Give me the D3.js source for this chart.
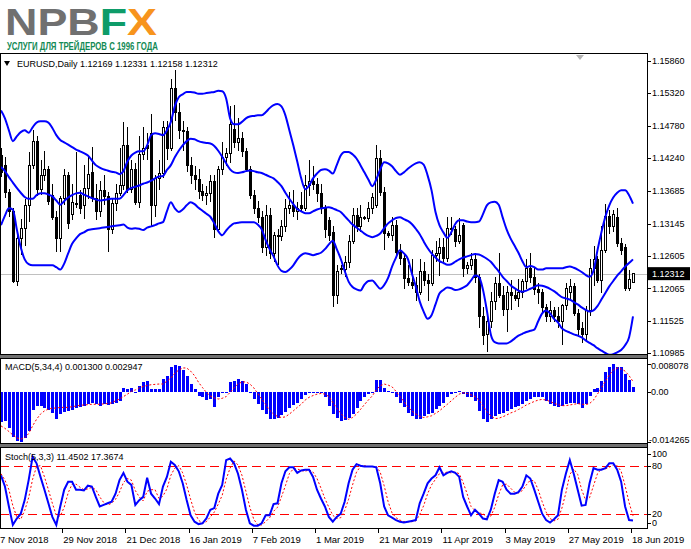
<!DOCTYPE html>
<html>
<head>
<meta charset="utf-8">
<script src="https://cdn.jsdelivr.net/npm/d3@7"></script>
<style>
  body { margin: 0; background: #fff; }
  svg { display: block; }
  text { font-family: "Liberation Sans", Arial, sans-serif; }
</style>
</head>
<body>
<svg id="chart" width="691" height="549"></svg>
<script>
// EURUSD daily, 7 Nov 2018 .. 18 Jun 2019
const dateLabels = ['7 Nov 2018', '29 Nov 2018', '21 Dec 2018', '16 Jan 2019', '7 Feb 2019', '1 Mar 2019',
  '21 Mar 2019', '11 Apr 2019', '3 May 2019', '27 May 2019', '18 Jun 2019']
const dateBars = [0, 16, 32, 48, 64, 80, 96, 112, 128, 144, 160]
const priceTicks = [1.15860, 1.15320, 1.14780, 1.14240, 1.13685, 1.13145, 1.12605, 1.12065, 1.11525, 1.10985]
const macdTicks = [0.008078, 0, -0.014265]
const stochTicks = [100, 80, 20, 0]
const stochLevels = [80, 20]

const opens = [1.1428, 1.1412, 1.1366, 1.1335, 1.1218, 1.1290, 1.1306, 1.1345, 1.1412, 1.1452,
  1.1372, 1.1395, 1.1405, 1.1362, 1.1325, 1.1290, 1.1356, 1.1395, 1.1330, 1.1348,
  1.1362, 1.1345, 1.1373, 1.1400, 1.1356, 1.1335, 1.1370, 1.1360, 1.1305, 1.1348,
  1.1365, 1.1378, 1.1445, 1.1372, 1.1405, 1.1350, 1.1430, 1.1445, 1.1465, 1.1345,
  1.1390, 1.1398, 1.1475, 1.1440, 1.1540, 1.1500, 1.1470, 1.1468, 1.1412, 1.1395,
  1.1388, 1.1368, 1.1362, 1.1365, 1.1385, 1.1305, 1.1405, 1.1425, 1.1432, 1.1472,
  1.1450, 1.1457, 1.1435, 1.1405, 1.1362, 1.1340, 1.1325, 1.1275, 1.1328, 1.1265,
  1.1295, 1.1293, 1.1310, 1.1340, 1.1345, 1.1335, 1.1345, 1.1340, 1.1378, 1.1385,
  1.1380, 1.1365, 1.1340, 1.1320, 1.1300, 1.1195, 1.1240, 1.1238, 1.1250, 1.1285,
  1.1328, 1.1310, 1.1325, 1.1323, 1.1340, 1.1345, 1.1423, 1.1367, 1.1298, 1.1295,
  1.1312, 1.1267, 1.1256, 1.1223, 1.1216, 1.1212, 1.1200, 1.1235, 1.1220, 1.1215,
  1.1262, 1.1265, 1.1275, 1.1256, 1.1306, 1.1305, 1.1285, 1.1312, 1.1240, 1.1245,
  1.1255, 1.1225, 1.1160, 1.1130, 1.1152, 1.1185, 1.1215, 1.1195, 1.1172, 1.1200,
  1.1195, 1.1190, 1.1200, 1.1218, 1.1240, 1.1225, 1.1205, 1.1200, 1.1175, 1.1160,
  1.1170, 1.1160, 1.1152, 1.1178, 1.1200, 1.1210, 1.1165, 1.1140, 1.1130, 1.1170,
  1.1240, 1.1255, 1.1220, 1.1270, 1.1326, 1.1310, 1.1325, 1.1282, 1.1275, 1.1207,
  1.12169]
const highs = [1.1440, 1.1426, 1.1372, 1.1340, 1.1300, 1.1323, 1.1356, 1.1434, 1.1470, 1.1460,
  1.1420, 1.1435, 1.1410, 1.1380, 1.1335, 1.1360, 1.1406, 1.1400, 1.1380, 1.1434,
  1.1370, 1.1412, 1.1425, 1.1442, 1.1380, 1.1385, 1.1395, 1.1368, 1.1355, 1.1380,
  1.1440, 1.1484, 1.1475, 1.1420, 1.1415, 1.1460, 1.1475, 1.1465, 1.1498, 1.1395,
  1.1420, 1.1485, 1.1485, 1.1556, 1.1570, 1.1515, 1.1485, 1.1475, 1.1425, 1.1410,
  1.1405, 1.1380, 1.1378, 1.1395, 1.1395, 1.1410, 1.1450, 1.1440, 1.1510, 1.1512,
  1.1490, 1.1468, 1.1440, 1.1410, 1.1370, 1.1352, 1.1335, 1.1345, 1.1340, 1.1300,
  1.1305, 1.1320, 1.1356, 1.1368, 1.1370, 1.1350, 1.1368, 1.1395, 1.1420, 1.1410,
  1.1390, 1.1380, 1.1345, 1.1325, 1.1310, 1.1245, 1.1245, 1.1260, 1.1295, 1.1340,
  1.1340, 1.1345, 1.1328, 1.1350, 1.1365, 1.1445, 1.1437, 1.1375, 1.1302, 1.1325,
  1.1320, 1.1280, 1.1262, 1.1245, 1.1255, 1.1225, 1.1255, 1.1250, 1.1230, 1.1270,
  1.1285, 1.1290, 1.1290, 1.1326, 1.1325, 1.1310, 1.1324, 1.1315, 1.1250, 1.1265,
  1.1265, 1.1230, 1.1175, 1.1160, 1.1200, 1.1225, 1.1265, 1.1210, 1.1210, 1.1220,
  1.1205, 1.1222, 1.1222, 1.1255, 1.1265, 1.1240, 1.1215, 1.1205, 1.1180, 1.1185,
  1.1175, 1.1175, 1.1180, 1.1215, 1.1222, 1.1215, 1.1172, 1.1150, 1.1178, 1.1255,
  1.1277, 1.1260, 1.1310, 1.1348, 1.1337, 1.1337, 1.1340, 1.1290, 1.1280, 1.1238,
  1.12331]
const lows = [1.1392, 1.1358, 1.1325, 1.1215, 1.1210, 1.1262, 1.1277, 1.1318, 1.1405, 1.1360,
  1.1362, 1.1385, 1.1345, 1.1320, 1.1267, 1.1267, 1.1345, 1.1306, 1.1320, 1.1340,
  1.1330, 1.1323, 1.1356, 1.1350, 1.1320, 1.1325, 1.1345, 1.1267, 1.1298, 1.1335,
  1.1360, 1.1370, 1.1365, 1.1365, 1.1345, 1.1340, 1.1420, 1.1420, 1.1310, 1.1325,
  1.1370, 1.1390, 1.1420, 1.1435, 1.1485, 1.1455, 1.1435, 1.1400, 1.1380, 1.1370,
  1.1355, 1.1352, 1.1345, 1.1350, 1.1290, 1.1300, 1.1395, 1.1410, 1.1415, 1.1440,
  1.1435, 1.1425, 1.1400, 1.1355, 1.1330, 1.1315, 1.1265, 1.1260, 1.1255, 1.1250,
  1.1245, 1.1285, 1.1300, 1.1330, 1.1325, 1.1320, 1.1335, 1.1335, 1.1360, 1.1370,
  1.1350, 1.1330, 1.1290, 1.1285, 1.1176, 1.1180, 1.1230, 1.1225, 1.1240, 1.1280,
  1.1300, 1.1300, 1.1320, 1.1318, 1.1330, 1.1340, 1.1360, 1.1270, 1.1290, 1.1285,
  1.1260, 1.1245, 1.1206, 1.1210, 1.1205, 1.1185, 1.1195, 1.1210, 1.1185, 1.1210,
  1.1250, 1.1228, 1.1250, 1.1250, 1.1295, 1.1275, 1.1280, 1.1225, 1.1230, 1.1238,
  1.1215, 1.1140, 1.1112, 1.1100, 1.1140, 1.1170, 1.1190, 1.1160, 1.1134, 1.1170,
  1.1185, 1.1175, 1.1190, 1.1205, 1.1215, 1.1195, 1.1180, 1.1165, 1.1150, 1.1150,
  1.1150, 1.1140, 1.1112, 1.1170, 1.1185, 1.1160, 1.1126, 1.1116, 1.1118, 1.1160,
  1.1210, 1.1215, 1.1199, 1.1265, 1.1298, 1.1300, 1.1275, 1.1262, 1.1202, 1.1202,
  1.12158]
const closes = [1.1400, 1.1366, 1.1335, 1.1218, 1.1290, 1.1306, 1.1345, 1.1412, 1.1452, 1.1372,
  1.1395, 1.1405, 1.1352, 1.1325, 1.1290, 1.1356, 1.1395, 1.1314, 1.1350, 1.1346,
  1.1340, 1.1373, 1.1396, 1.1356, 1.1335, 1.1370, 1.1360, 1.1305, 1.1348, 1.1365,
  1.1378, 1.1445, 1.1372, 1.1405, 1.1350, 1.1430, 1.1440, 1.1440, 1.1345, 1.1390,
  1.1398, 1.1475, 1.1440, 1.1540, 1.1500, 1.1470, 1.1468, 1.1412, 1.1395, 1.1388,
  1.1368, 1.1362, 1.1365, 1.1385, 1.1305, 1.1405, 1.1425, 1.1432, 1.1480, 1.1450,
  1.1457, 1.1435, 1.1405, 1.1362, 1.1340, 1.1325, 1.1275, 1.1328, 1.1265, 1.1295,
  1.1293, 1.1310, 1.1340, 1.1345, 1.1335, 1.1340, 1.1340, 1.1378, 1.1385, 1.1380,
  1.1365, 1.1340, 1.1305, 1.1295, 1.1195, 1.1235, 1.1238, 1.1250, 1.1285, 1.1328,
  1.1310, 1.1325, 1.1323, 1.1340, 1.1358, 1.1423, 1.1367, 1.1298, 1.1295, 1.1312,
  1.1267, 1.1256, 1.1223, 1.1216, 1.1212, 1.1200, 1.1235, 1.1220, 1.1215, 1.1262,
  1.1265, 1.1275, 1.1256, 1.1306, 1.1305, 1.1285, 1.1295, 1.1240, 1.1245, 1.1255,
  1.1225, 1.1160, 1.1128, 1.1152, 1.1185, 1.1215, 1.1195, 1.1172, 1.1200, 1.1195,
  1.1190, 1.1200, 1.1218, 1.1240, 1.1225, 1.1205, 1.1200, 1.1175, 1.1160, 1.1170,
  1.1160, 1.1152, 1.1178, 1.1206, 1.1210, 1.1165, 1.1138, 1.1130, 1.1170, 1.1240,
  1.1255, 1.1220, 1.1270, 1.1326, 1.1310, 1.1330, 1.1282, 1.1270, 1.1207, 1.1222,
  1.12312]

// Bollinger bands (20, 2) as drawn
const bbUpper = [1.1503, 1.1490, 1.1470, 1.1452, 1.1460, 1.1467, 1.1470, 1.1466, 1.1475, 1.1483,
  1.1485, 1.1485, 1.1483, 1.1474, 1.1462, 1.1454, 1.1450, 1.1446, 1.1442, 1.1438,
  1.1435, 1.1432, 1.1428, 1.1420, 1.1412, 1.1408, 1.1405, 1.1403, 1.1401, 1.1400,
  1.1397, 1.1402, 1.1418, 1.1428, 1.1433, 1.1435, 1.1435, 1.1445, 1.1462, 1.1465,
  1.1464, 1.1462, 1.1470, 1.1484, 1.1510, 1.1525, 1.1530, 1.1534, 1.1534, 1.1533,
  1.1531, 1.1531, 1.1532, 1.1533, 1.1534, 1.1536, 1.1535, 1.1523, 1.1490, 1.1480,
  1.1480, 1.1484, 1.1490, 1.1493, 1.1494, 1.1495, 1.1495, 1.1500, 1.1507, 1.1512,
  1.1514, 1.1510, 1.1495, 1.1470, 1.1445, 1.1418, 1.1390, 1.1372, 1.1378, 1.1390,
  1.1398, 1.1404, 1.1405, 1.1403, 1.1398, 1.1412, 1.1428, 1.1434, 1.1434, 1.1430,
  1.1423, 1.1412, 1.1400, 1.1388, 1.1377, 1.1388, 1.1405, 1.1417, 1.1415, 1.1410,
  1.1402, 1.1396, 1.1400, 1.1406, 1.1411, 1.1415, 1.1417, 1.1413, 1.1395, 1.1370,
  1.1334, 1.1312, 1.1300, 1.1291, 1.1300, 1.1314, 1.1320, 1.1320, 1.1318, 1.1317,
  1.1317, 1.1318, 1.1330, 1.1345, 1.1350, 1.1351, 1.1346, 1.1325, 1.1305, 1.1290,
  1.1278, 1.1266, 1.1252, 1.1242, 1.1244, 1.1242, 1.1238, 1.1238, 1.1240, 1.1240,
  1.1240, 1.1240, 1.1240, 1.1242, 1.1243, 1.1241, 1.1238, 1.1234, 1.1229, 1.1226,
  1.1236, 1.1270, 1.1300, 1.1326, 1.1345, 1.1358, 1.1366, 1.1370, 1.1370, 1.1362,
  1.1348]
const bbMiddle = [1.1409, 1.1402, 1.1392, 1.1383, 1.1374, 1.1366, 1.1359, 1.1356, 1.1356, 1.1362,
  1.1365, 1.1365, 1.1363, 1.1360, 1.1353, 1.1346, 1.1352, 1.1358, 1.1362, 1.1365,
  1.1366, 1.1363, 1.1360, 1.1357, 1.1355, 1.1353, 1.1354, 1.1355, 1.1356, 1.1356,
  1.1356, 1.1362, 1.1370, 1.1374, 1.1376, 1.1378, 1.1381, 1.1383, 1.1386, 1.1390,
  1.1393, 1.1394, 1.1404, 1.1412, 1.1425, 1.1436, 1.1445, 1.1452, 1.1456, 1.1455,
  1.1452, 1.1450, 1.1449, 1.1448, 1.1444, 1.1436, 1.1426, 1.1415, 1.1405, 1.1400,
  1.1399, 1.1400, 1.1402, 1.1403, 1.1402, 1.1400, 1.1399, 1.1396, 1.1393, 1.1390,
  1.1384, 1.1377, 1.1366, 1.1356, 1.1347, 1.1339, 1.1335, 1.1332, 1.1332, 1.1335,
  1.1338, 1.1340, 1.1341, 1.1342, 1.1340, 1.1337, 1.1334, 1.1327, 1.1320, 1.1313,
  1.1308, 1.1303, 1.1298, 1.1294, 1.1292, 1.1294, 1.1298, 1.1307, 1.1315, 1.1320,
  1.1324, 1.1325, 1.1322, 1.1319, 1.1314, 1.1306, 1.1297, 1.1285, 1.1274, 1.1265,
  1.1258, 1.1252, 1.1249, 1.1246, 1.1247, 1.1251, 1.1255, 1.1258, 1.1260, 1.1262,
  1.1264, 1.1263, 1.1260, 1.1256, 1.1251, 1.1243, 1.1235, 1.1226, 1.1219, 1.1212,
  1.1207, 1.1203, 1.1201, 1.1203, 1.1206, 1.1209, 1.1212, 1.1211, 1.1209, 1.1206,
  1.1202, 1.1197, 1.1192, 1.1190, 1.1188, 1.1184, 1.1180, 1.1175, 1.1171, 1.1168,
  1.1170, 1.1177, 1.1188, 1.1199, 1.1210, 1.1219, 1.1228, 1.1235, 1.1243, 1.1249,
  1.1255]
const bbLower = [1.1312, 1.1328, 1.1340, 1.1338, 1.1305, 1.1275, 1.1255, 1.1247, 1.1245, 1.1245,
  1.1245, 1.1245, 1.1245, 1.1245, 1.1242, 1.1238, 1.1248, 1.1265, 1.1281, 1.1290,
  1.1297, 1.1300, 1.1304, 1.1305, 1.1306, 1.1307, 1.1308, 1.1309, 1.1310, 1.1311,
  1.1312, 1.1313, 1.1308, 1.1306, 1.1307, 1.1306, 1.1304, 1.1308, 1.1310, 1.1312,
  1.1315, 1.1317, 1.1335, 1.1350, 1.1340, 1.1334, 1.1338, 1.1345, 1.1350, 1.1347,
  1.1341, 1.1336, 1.1331, 1.1326, 1.1315, 1.1302, 1.1295, 1.1303, 1.1310, 1.1315,
  1.1316, 1.1317, 1.1317, 1.1317, 1.1317, 1.1313, 1.1305, 1.1287, 1.1272, 1.1260,
  1.1245, 1.1236, 1.1234, 1.1238, 1.1245, 1.1255, 1.1262, 1.1265, 1.1264, 1.1262,
  1.1264, 1.1266, 1.1272, 1.1280, 1.1286, 1.1272, 1.1256, 1.1236, 1.1218, 1.1209,
  1.1205, 1.1203, 1.1213, 1.1219, 1.1220, 1.1213, 1.1206, 1.1212, 1.1224, 1.1243,
  1.1258, 1.1270, 1.1265, 1.1256, 1.1232, 1.1210, 1.1185, 1.1168, 1.1156, 1.1162,
  1.1180, 1.1198, 1.1204, 1.1208, 1.1207, 1.1204, 1.1205, 1.1208, 1.1212, 1.1220,
  1.1228, 1.1226, 1.1205, 1.1170, 1.1130, 1.1117, 1.1115, 1.1115, 1.1115, 1.1118,
  1.1123, 1.1128, 1.1131, 1.1134, 1.1136, 1.1138, 1.1152, 1.1165, 1.1170, 1.1165,
  1.1156, 1.1150, 1.1140, 1.1136, 1.1133, 1.1130, 1.1128, 1.1125, 1.1120, 1.1116,
  1.1112, 1.1107, 1.1103, 1.1099, 1.1096, 1.1097, 1.1100, 1.1104, 1.1112, 1.1125,
  1.1160]

// MACD(5,34,4)
const macdHist = [-0.0088, -0.0084, -0.0103, -0.0130, -0.0140, -0.014265, -0.0133, -0.0112, -0.0053, -0.0040,
  -0.0040, -0.0047, -0.0053, -0.0060, -0.0079, -0.0064, -0.0057, -0.0055, -0.0051, -0.0047,
  -0.0043, -0.0040, -0.0036, -0.0032, -0.0036, -0.0040, -0.0036, -0.0037, -0.0036, -0.0031,
  -0.0026, 0.0012, 0.0008, 0.0011, -0.0002, 0.0017, 0.0027, 0.0032, 0.0008, 0.0008,
  0.0008, 0.0037, 0.0046, 0.0072, 0.0077, 0.0073, 0.0063, 0.0046, 0.0022, 0.0008,
  -0.0012, -0.0016, -0.0024, -0.0021, -0.0045, -0.0016, -0.0002, -0.0002, 0.0027, 0.0032,
  0.0037, 0.0032, 0.0022, -0.0002, -0.0021, -0.0036, -0.0053, -0.0064, -0.0079, -0.0079,
  -0.0074, -0.0066, -0.0057, -0.0047, -0.0037, -0.0031, -0.0021, -0.0009, -0.0005, -0.0005,
  -0.0004, -0.0005, -0.0016, -0.0040, -0.0064, -0.0074, -0.0084, -0.0082, -0.0074, -0.0064,
  -0.0047, -0.0028, -0.0016, -0.0007, -0.0002, 0.0034, 0.0034, 0.0012, 0.0003, -0.0002,
  -0.0016, -0.0031, -0.0045, -0.0060, -0.0069, -0.0079, -0.0079, -0.0069, -0.0064, -0.0060,
  -0.0050, -0.0040, -0.0031, -0.0016, -0.0007, -0.0004, 0.0001, -0.0007, -0.0016, -0.0016,
  -0.0026, -0.0055, -0.0079, -0.0088, -0.0079, -0.0069, -0.0064, -0.0060, -0.0055, -0.0050,
  -0.0045, -0.0040, -0.0036, -0.0026, -0.0021, -0.0016, -0.0016, -0.0016, -0.0026, -0.0036,
  -0.0040, -0.0045, -0.0040, -0.0036, -0.0031, -0.0031, -0.0036, -0.0047, -0.0036, -0.0012,
  0.0008, 0.0012, 0.0032, 0.0056, 0.0070, 0.008078, 0.0070, 0.0070, 0.0051, 0.0034,
  0.0013]
const macdSignal = [-0.0098, -0.0105, -0.0114, -0.0124, -0.0132, -0.0136, -0.0132, -0.0120, -0.0098, -0.0079,
  -0.0064, -0.0055, -0.0050, -0.0047, -0.0047, -0.0045, -0.0045, -0.0045, -0.0043, -0.0041,
  -0.0039, -0.0038, -0.0037, -0.0036, -0.0036, -0.0036, -0.0035, -0.0034, -0.0032, -0.0026,
  -0.0021, -0.0014, -0.0007, 0.0001, 0.0005, 0.0011, 0.0015, 0.0018, 0.0020, 0.0021,
  0.0022, 0.0022, 0.0030, 0.0039, 0.0053, 0.0062, 0.0068, 0.0068, 0.0059, 0.0046,
  0.0027, 0.0012, -0.0002, -0.0012, -0.0018, -0.0021, -0.0019, -0.0014, -0.0002, 0.0011,
  0.0022, 0.0028, 0.0028, 0.0022, 0.0011, -0.0005, -0.0021, -0.0037, -0.0053, -0.0064,
  -0.0071, -0.0074, -0.0072, -0.0064, -0.0055, -0.0045, -0.0036, -0.0024, -0.0016, -0.0011,
  -0.0007, -0.0005, -0.0007, -0.0014, -0.0031, -0.0047, -0.0062, -0.0074, -0.0079, -0.0074,
  -0.0064, -0.0051, -0.0037, -0.0024, -0.0012, 0.0005, 0.0017, 0.0022, 0.0019, 0.0014,
  0.0001, -0.0014, -0.0028, -0.0043, -0.0055, -0.0064, -0.0071, -0.0074, -0.0072, -0.0069,
  -0.0062, -0.0055, -0.0045, -0.0036, -0.0026, -0.0016, -0.0007, -0.0003, -0.0005, -0.0009,
  -0.0014, -0.0024, -0.0040, -0.0057, -0.0069, -0.0077, -0.0076, -0.0072, -0.0067, -0.0061,
  -0.0057, -0.0051, -0.0045, -0.0038, -0.0033, -0.0028, -0.0024, -0.0022, -0.0024, -0.0028,
  -0.0033, -0.0037, -0.0040, -0.0040, -0.0038, -0.0036, -0.0034, -0.0036, -0.0037, -0.0034,
  -0.0024, -0.0007, 0.0011, 0.0030, 0.0048, 0.0062, 0.0068, 0.0065, 0.0059, 0.0046,
  0.002947]

// Stochastic(5,3,3)
const stochMain = [68, 54, 29, 6, 14, 20, 37, 62, 91, 83,
  66, 50, 33, 16, 6, 29, 50, 60, 60, 50,
  50, 49, 55, 54, 41, 29, 31, 33, 35, 45,
  62, 71, 60, 56, 31, 37, 41, 65, 45, 39,
  32, 54, 66, 85, 81, 73, 58, 37, 18, 10,
  7, 8, 14, 25, 27, 45, 56, 87, 89, 83,
  70, 50, 25, 8, 5, 5, 8, 18, 18, 32,
  33, 58, 73, 78, 78, 71, 74, 75, 75, 66,
  50, 39, 29, 16, 10, 16, 20, 35, 58, 75,
  82, 80, 79, 79, 79, 78, 58, 29, 18, 15,
  12, 10, 9, 10, 11, 12, 33, 45, 58, 64,
  68, 78, 68, 71, 73, 71, 66, 41, 29, 18,
  25, 20, 14, 13, 25, 45, 62, 60, 50, 45,
  45, 47, 54, 68, 64, 50, 35, 20, 12, 9,
  13, 18, 50, 70, 87, 70, 50, 30, 31, 58,
  77, 75, 75, 77, 83, 83, 75, 60, 29, 12,
  11.4502]
const stochSignal = [70, 62, 50, 30, 16, 13, 24, 40, 63, 79,
  80, 66, 50, 33, 18, 17, 28, 46, 57, 57,
  53, 50, 51, 53, 50, 41, 34, 31, 33, 38,
  47, 59, 64, 62, 49, 41, 36, 48, 50, 50,
  39, 42, 51, 68, 77, 80, 71, 56, 38, 22,
  12, 8, 10, 16, 22, 32, 43, 63, 77, 86,
  81, 68, 48, 28, 13, 6, 6, 10, 15, 23,
  28, 41, 55, 70, 76, 76, 74, 73, 75, 72,
  64, 52, 39, 28, 18, 14, 15, 24, 38, 56,
  72, 79, 80, 79, 79, 79, 72, 55, 35, 21,
  15, 12, 10, 10, 10, 11, 19, 30, 45, 56,
  63, 70, 71, 72, 71, 72, 70, 59, 45, 29,
  24, 21, 20, 16, 17, 28, 44, 56, 57, 52,
  47, 46, 49, 56, 62, 61, 50, 35, 22, 14,
  11, 13, 27, 46, 69, 76, 69, 50, 37, 40,
  55, 70, 76, 76, 78, 81, 80, 73, 55, 34,
  17.3674]

const svg = d3.select('#chart')
const axisX = 647
const mainTop = 53, mainBottom = 355
const macdTop = 358, macdBottom = 444
const stochTop = 447, stochBottom = 529

const x = d3.scaleLinear().domain([0, 160]).range([1, 633])
const y = d3.scaleLinear().domain([1.10985, 1.15860]).range([353.3, 60.7])
const yMacd = d3.scaleLinear().domain([-0.014265, 0.008078]).range([441.5, 363.5])
const yStoch = d3.scaleLinear().domain([0, 100]).range([529.7, 449.7])
const px = v => Math.round(v) + 0.5

// logo
const logo = svg.append('text').attr('x', 5).attr('y', 35)
  .attr('font-family', '"DejaVu Sans", sans-serif')
  .attr('font-weight', 'bold').attr('font-size', 37)
  .attr('textLength', 152).attr('lengthAdjust', 'spacingAndGlyphs')
logo.append('tspan').attr('fill', '#707070').text('NPB')
logo.append('tspan').attr('fill', '#0e9c69').text('F')
logo.append('tspan').attr('fill', '#f7941d').text('X')
svg.append('text').attr('x', 7).attr('y', 50)
  .attr('font-weight', 'bold').attr('font-size', 10.5).attr('fill', '#138a55')
  .attr('textLength', 151).attr('lengthAdjust', 'spacingAndGlyphs')
  .text('УСЛУГИ ДЛЯ ТРЕЙДЕРОВ С 1996 ГОДА')

// panels
const panels = [[mainTop, mainBottom], [macdTop, macdBottom], [stochTop, stochBottom]]
svg.append('rect').attr('x', 0).attr('y', mainBottom).attr('width', axisX).attr('height', macdTop - mainBottom).attr('fill', '#707070')
svg.append('rect').attr('x', 0).attr('y', macdBottom).attr('width', axisX).attr('height', stochTop - macdBottom).attr('fill', '#707070')

const clip = svg.append('defs').selectAll('clipPath').data(panels).join('clipPath')
  .attr('id', (d, i) => 'clip' + i)
clip.append('rect').attr('x', 0).attr('y', d => d[0]).attr('width', axisX).attr('height', d => d[1] - d[0])

const gMain = svg.append('g').attr('clip-path', 'url(#clip0)')
const gMacd = svg.append('g').attr('clip-path', 'url(#clip1)')
const gStoch = svg.append('g').attr('clip-path', 'url(#clip2)')

// bid line
gMain.append('line').attr('x1', 0).attr('x2', axisX)
  .attr('y1', px(y(closes[160]))).attr('y2', px(y(closes[160])))
  .attr('stroke', '#c0c0c0').attr('stroke-width', 1)

// candles
const bars = d3.range(opens.length)
const candle = gMain.selectAll('g.candle').data(bars).join('g').attr('class', 'candle')
  .attr('shape-rendering', 'crispEdges')
candle.append('line')
  .attr('x1', i => px(x(i))).attr('x2', i => px(x(i)))
  .attr('y1', i => y(highs[i])).attr('y2', i => y(lows[i]))
  .attr('stroke', '#000')
candle.append('rect')
  .attr('x', i => Math.round(x(i)) - 0.5)
  .attr('width', 2)
  .attr('y', i => y(Math.max(opens[i], closes[i])))
  .attr('height', i => Math.max(1, Math.abs(y(opens[i]) - y(closes[i]))))
  .attr('fill', i => closes[i] >= opens[i] ? '#fff' : '#000')
  .attr('stroke', '#000')

// bollinger bands
const bandLine = d3.line().x((d, i) => x(i)).y(d => y(d)).curve(d3.curveMonotoneX)
;[bbUpper, bbMiddle, bbLower].forEach(band => {
  gMain.append('path').attr('d', bandLine(band))
    .attr('fill', 'none').attr('stroke', '#0000ff').attr('stroke-width', 2)
})

// shift marker
svg.append('path').attr('d', 'M576,55 L584,55 L580,60 Z').attr('fill', '#b4b4b4')

// MACD
gMacd.selectAll('rect.hist').data(bars).join('rect').attr('class', 'hist')
  .attr('shape-rendering', 'crispEdges')
  .attr('x', i => Math.round(x(i)) - 1)
  .attr('width', 3)
  .attr('y', i => Math.min(yMacd(0), yMacd(macdHist[i])))
  .attr('height', i => Math.max(1, Math.abs(yMacd(macdHist[i]) - yMacd(0))))
  .attr('fill', '#0000ff')
gMacd.append('path')
  .attr('d', d3.line().x((d, i) => x(i)).y(d => yMacd(d))(macdSignal))
  .attr('fill', 'none').attr('stroke', '#ff0000').attr('stroke-width', 1)
  .attr('stroke-dasharray', '2,2')

// Stochastic
stochLevels.forEach(v => {
  gStoch.append('line').attr('x1', 0).attr('x2', axisX)
    .attr('y1', px(yStoch(v))).attr('y2', px(yStoch(v)))
    .attr('stroke', '#ff0000').attr('stroke-width', 1).attr('stroke-dasharray', '9,5')
})
gStoch.append('path')
  .attr('d', d3.line().x((d, i) => x(i)).y(d => yStoch(d))(stochSignal))
  .attr('fill', 'none').attr('stroke', '#ff0000').attr('stroke-width', 1)
  .attr('stroke-dasharray', '2,2')
gStoch.append('path')
  .attr('d', d3.line().x((d, i) => x(i)).y(d => yStoch(d))(stochMain))
  .attr('fill', 'none').attr('stroke', '#0000ff').attr('stroke-width', 2)

// frames
panels.forEach(p => {
  svg.append('rect').attr('x', 0.5).attr('y', p[0] + 0.5)
    .attr('width', axisX - 0.5).attr('height', p[1] - p[0] - 1)
    .attr('fill', 'none').attr('stroke', '#000').attr('shape-rendering', 'crispEdges')
})

// panel captions
svg.append('path').attr('d', 'M4,61 L10,61 L7,66 Z').attr('fill', '#000')
svg.append('text').attr('x', 17).attr('y', 64).attr('dy', '0.35em').attr('font-size', 9)
  .text('EURUSD,Daily  1.12169 1.12331 1.12158 1.12312')
svg.append('text').attr('x', 5).attr('y', 367).attr('dy', '0.35em').attr('font-size', 9)
  .text('MACD(5,34,4) 0.001300 0.002947')
svg.append('text').attr('x', 5).attr('y', 456.5).attr('dy', '0.35em').attr('font-size', 9)
  .text('Stoch(5,3,3) 11.4502 17.3674')

// price axis
const axisG = svg.append('g').attr('shape-rendering', 'crispEdges')
priceTicks.forEach(v => {
  axisG.append('line').attr('x1', axisX).attr('x2', axisX + 4)
    .attr('y1', px(y(v))).attr('y2', px(y(v))).attr('stroke', '#000')
  svg.append('text').attr('x', 652).attr('y', y(v)).attr('dy', '0.35em')
    .attr('font-size', 9).text(v.toFixed(5))
})
const bidY = y(closes[160])
svg.append('rect').attr('x', 648).attr('y', bidY - 6.5).attr('width', 42).attr('height', 13).attr('fill', '#000')
svg.append('text').attr('x', 652).attr('y', bidY).attr('dy', '0.35em')
  .attr('font-size', 9).attr('fill', '#fff').text(closes[160].toFixed(5))

macdTicks.forEach(v => {
  const ty = Math.min(Math.max(yMacd(v), macdTop + 8), macdBottom - 4)
  axisG.append('line').attr('x1', axisX).attr('x2', axisX + 4)
    .attr('y1', px(yMacd(v))).attr('y2', px(yMacd(v))).attr('stroke', '#000')
  svg.append('text').attr('x', v < 0 ? 649 : 651).attr('y', ty).attr('dy', '0.35em')
    .attr('font-size', 9).text(v === 0 ? '0.00' : v.toFixed(6))
})
stochTicks.forEach(v => {
  const ty = Math.min(Math.max(yStoch(v), stochTop + 7), stochBottom - 6)
  axisG.append('line').attr('x1', axisX).attr('x2', axisX + 4)
    .attr('y1', px(ty)).attr('y2', px(ty)).attr('stroke', '#000')
  svg.append('text').attr('x', 652).attr('y', ty).attr('dy', '0.35em')
    .attr('font-size', 9).text(v)
})

axisG.append('line').attr('x1', axisX + 0.5).attr('x2', axisX + 0.5)
  .attr('y1', mainTop).attr('y2', stochBottom).attr('stroke', '#000')

// time axis
dateBars.forEach((b, k) => {
  const tx = x(b) - 2
  axisG.append('line').attr('x1', px(tx)).attr('x2', px(tx))
    .attr('y1', stochBottom).attr('y2', stochBottom + 4).attr('stroke', '#000')
  svg.append('text').attr('x', tx + 1).attr('y', 540).attr('dy', '0.35em')
    .attr('font-size', 9.5).text(dateLabels[k])
})
</script>
</body>
</html>
